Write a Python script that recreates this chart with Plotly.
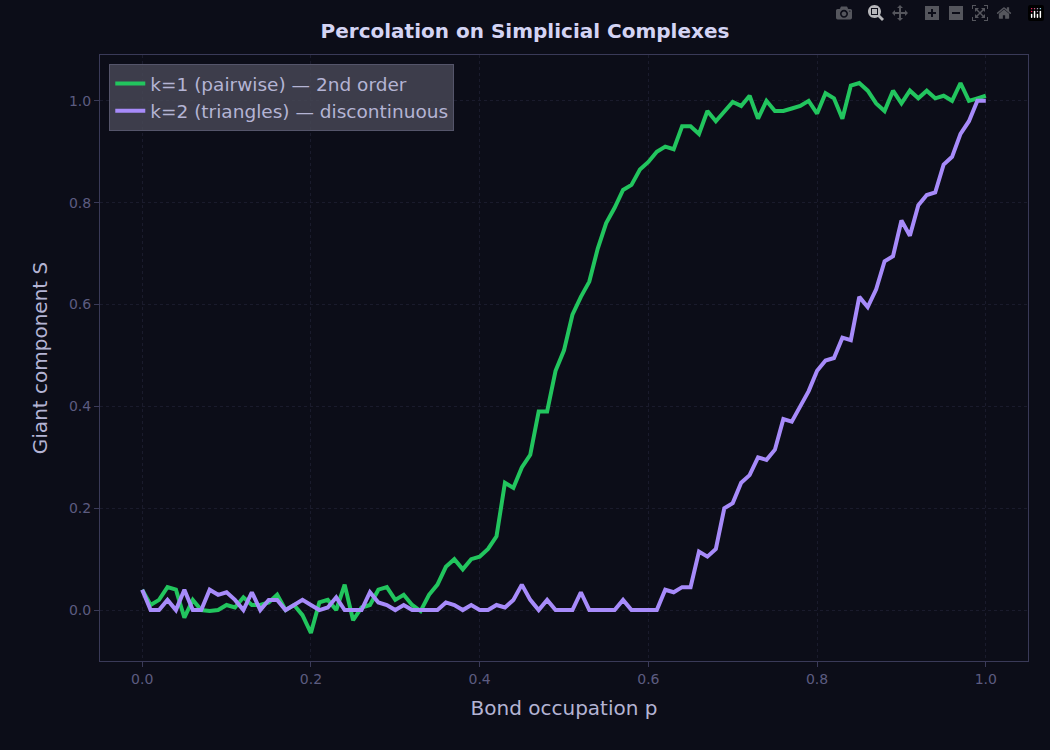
import plotly.graph_objects as go

# bond occupation p, 0..1 in steps of 0.01
p = [i / 100 for i in range(101)]

s_pairwise = [
    0.04, 0.01, 0.02, 0.045, 0.04, -0.015, 0.02, 0.0, -0.002, 0.0,
    0.01, 0.005, 0.025, 0.01, 0.01, 0.015, 0.03, 0.0, 0.01, -0.01,
    -0.045, 0.015, 0.02, 0.0, 0.05, -0.02, 0.005, 0.01, 0.04, 0.045,
    0.02, 0.03, 0.01, -0.002, 0.03, 0.05, 0.085, 0.1, 0.08, 0.1,
    0.105, 0.12, 0.145, 0.25, 0.24, 0.28, 0.305, 0.39, 0.39, 0.47,
    0.51, 0.58, 0.615, 0.645, 0.71, 0.76, 0.79, 0.825, 0.835, 0.865,
    0.88, 0.9, 0.91, 0.905, 0.95, 0.95, 0.935, 0.98, 0.96, 0.98,
    0.998, 0.99, 1.01, 0.965, 1.0, 0.98, 0.98, 0.985, 0.99, 1.0,
    0.975, 1.015, 1.005, 0.965, 1.03, 1.035, 1.02, 0.995, 0.98, 1.02,
    0.995, 1.02, 1.005, 1.02, 1.005, 1.01, 1.0, 1.035, 1.0, 1.005,
    1.01,
]

s_triangles = [
    0.04, 0.0, 0.0, 0.02, 0.0, 0.04, 0.0, 0.0, 0.04, 0.03,
    0.035, 0.02, 0.0, 0.035, 0.0, 0.02, 0.02, 0.0, 0.01, 0.02,
    0.01, 0.0, 0.005, 0.025, 0.0, 0.0, 0.0, 0.035, 0.015, 0.01,
    0.0, 0.01, 0.0, 0.0, 0.0, 0.0, 0.015, 0.01, 0.0, 0.01,
    0.0, 0.0, 0.01, 0.005, 0.02, 0.05, 0.02, 0.0, 0.02, 0.0,
    0.0, 0.0, 0.035, 0.0, 0.0, 0.0, 0.0, 0.02, 0.0, 0.0,
    0.0, 0.0, 0.04, 0.035, 0.045, 0.045, 0.115, 0.105, 0.12, 0.2,
    0.21, 0.25, 0.265, 0.3, 0.295, 0.315, 0.375, 0.37, 0.4, 0.43,
    0.47, 0.49, 0.495, 0.535, 0.53, 0.615, 0.595, 0.63, 0.685, 0.695,
    0.765, 0.735, 0.795, 0.815, 0.82, 0.875, 0.89, 0.935, 0.96, 1.0,
    1.0,
]

bg = "#0c0d18"
tick_col = "#5c5c80"
label_col = "#b4b4d4"

fig = go.Figure()
fig.add_trace(go.Scatter(x=p, y=s_pairwise, mode="lines", name="k=1 (pairwise) — 2nd order",
                         line=dict(color="#22c55e", width=4)))
fig.add_trace(go.Scatter(x=p, y=s_triangles, mode="lines", name="k=2 (triangles) — discontinuous",
                         line=dict(color="#a78bfa", width=4)))

axis = dict(showgrid=True, gridcolor="#1a1b2c", griddash="dot", zeroline=False,
            showline=True, linecolor="#3a3a58", mirror=True, ticks="outside",
            tickcolor="#3a3a58", tickfont=dict(size=14, color=tick_col),
            title_font=dict(size=20, color=label_col))

fig.update_layout(
    width=1050, height=750,
    paper_bgcolor=bg, plot_bgcolor=bg,
    font=dict(family="DejaVu Sans"),
    title=dict(text="<b>Percolation on Simplicial Complexes</b>", x=0.5, y=0.968,
               font=dict(size=20, color="#d4d4f4")),
    margin=dict(l=100, r=22, t=55, b=89),
    xaxis=dict(axis, title_text="Bond occupation p", range=[-0.05, 1.05],
               tickvals=[0, 0.2, 0.4, 0.6, 0.8, 1.0], ticktext=["0.0", "0.2", "0.4", "0.6", "0.8", "1.0"]),
    yaxis=dict(axis, title_text="Giant component S", range=[-0.1, 1.09],
               tickvals=[0, 0.2, 0.4, 0.6, 0.8, 1.0], ticktext=["0.0", "0.2", "0.4", "0.6", "0.8", "1.0"]),
    legend=dict(x=0.01, y=0.985, xanchor="left", yanchor="top",
                bgcolor="rgba(70,70,85,0.85)", bordercolor="#55556a", borderwidth=1,
                font=dict(size=18.5, color=label_col)),
)

fig.write_html("out.html", post_script="document.body.style.margin='0';document.body.style.background='#0c0d18';")
